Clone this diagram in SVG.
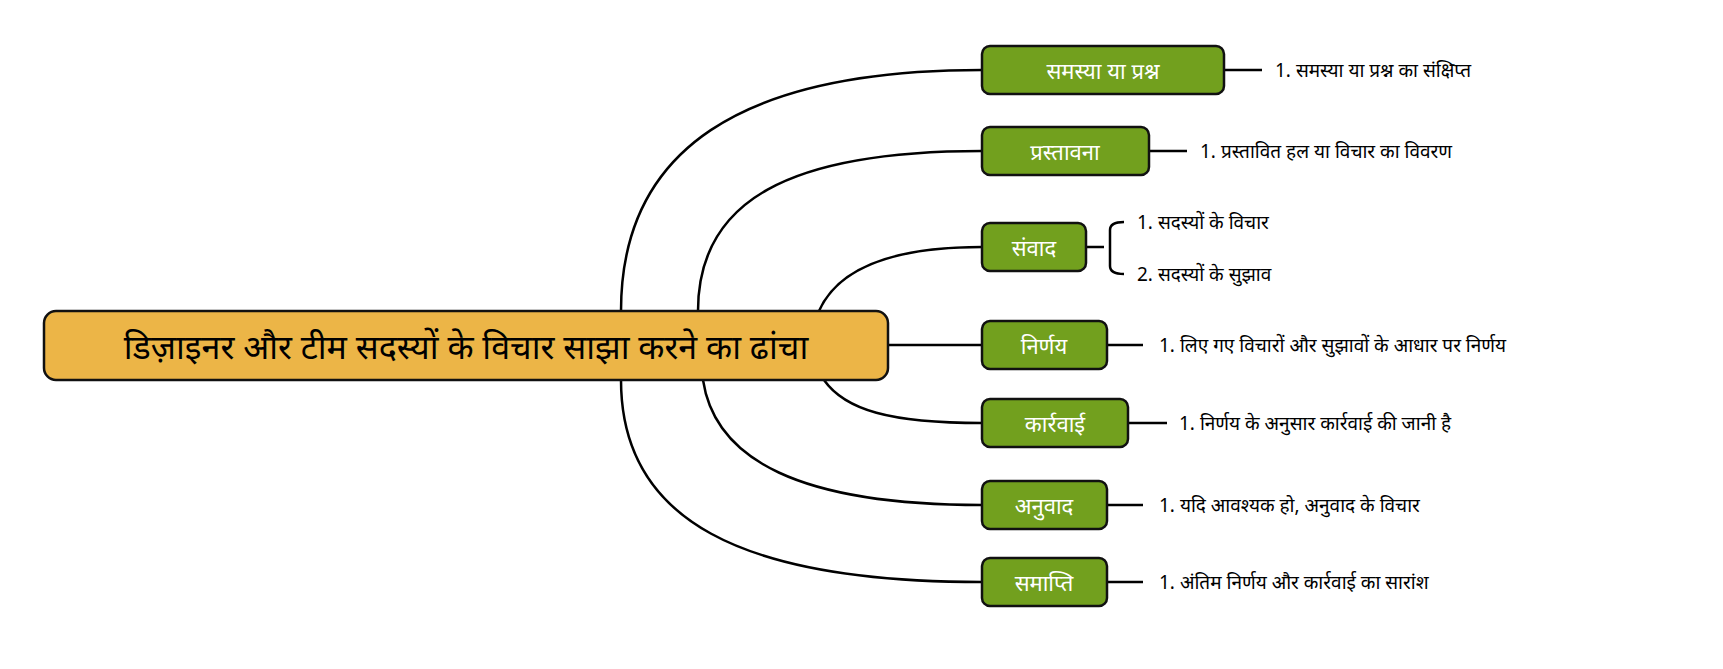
<svg xmlns="http://www.w3.org/2000/svg" width="1723" height="669" viewBox="0 0 1723 669">
<style>
.c{fill:none;stroke:#000;stroke-width:2.5}
.n{fill:#72a01e;stroke:#111;stroke-width:2.5}
.nt{font-family:"Noto Sans","DejaVu Sans",sans-serif;font-size:22px;fill:#fff;text-anchor:middle;dominant-baseline:central}
.t{font-family:"Noto Sans","DejaVu Sans",sans-serif;font-size:19px;fill:#000;dominant-baseline:central}
</style>
<rect width="1723" height="669" fill="#fff"/>
<g id="connectors">
<path class="c" d="M621,311 C621,150 740,70 982,70"/>
<path class="c" d="M698,311 C698,200 790,151 982,151"/>
<path class="c" d="M819,311 C835,275 880,247 982,247"/>
<path class="c" d="M888,345 L982,345"/>
<path class="c" d="M824,380 C845,410 890,423 982,423"/>
<path class="c" d="M703,380 C715,460 800,505 982,505"/>
<path class="c" d="M621,380 C621,520 740,582 982,582"/>
<path class="c" d="M1224,70 H1262 M1149,151 H1187 M1086,247 H1104 M1124,222 Q1110,222 1110,230 V266 Q1110,274 1124,274 M1107,345 H1143 M1128,423 H1167 M1107,505 H1143 M1107,582 H1143"/>
</g>
<g id="root">
<rect x="44" y="311" width="844" height="69" rx="12" fill="#ecb547" stroke="#111" stroke-width="2.5"/>
<text x="466" y="346" font-family="'Noto Sans','DejaVu Sans',sans-serif" font-size="34" text-anchor="middle" dominant-baseline="central">डिज़ाइनर और टीम सदस्यों के विचार साझा करने का ढांचा</text>
</g>
<g id="n1"><rect class="n" x="982" y="46" width="242" height="48" rx="8"/><text class="nt" x="1103" y="70">समस्या या प्रश्न</text><text class="t" x="1275" y="70">1. समस्या या प्रश्न का संक्षिप्त</text></g>
<g id="n2"><rect class="n" x="982" y="127" width="167" height="48" rx="8"/><text class="nt" x="1065" y="151">प्रस्तावना</text><text class="t" x="1200" y="151">1. प्रस्तावित हल या विचार का विवरण</text></g>
<g id="n3"><rect class="n" x="982" y="223" width="104" height="48" rx="8"/><text class="nt" x="1034" y="247">संवाद</text><text class="t" x="1137" y="222">1. सदस्यों के विचार</text><text class="t" x="1137" y="274">2. सदस्यों के सुझाव</text></g>
<g id="n4"><rect class="n" x="982" y="321" width="125" height="48" rx="8"/><text class="nt" x="1044" y="345">निर्णय</text><text class="t" x="1159" y="345">1. लिए गए विचारों और सुझावों के आधार पर निर्णय</text></g>
<g id="n5"><rect class="n" x="982" y="399" width="146" height="48" rx="8"/><text class="nt" x="1055" y="423">कार्रवाई</text><text class="t" x="1179" y="423">1. निर्णय के अनुसार कार्रवाई की जानी है</text></g>
<g id="n6"><rect class="n" x="982" y="481" width="125" height="48" rx="8"/><text class="nt" x="1044" y="505">अनुवाद</text><text class="t" x="1159" y="505">1. यदि आवश्यक हो, अनुवाद के विचार</text></g>
<g id="n7"><rect class="n" x="982" y="558" width="125" height="48" rx="8"/><text class="nt" x="1044" y="582">समाप्ति</text><text class="t" x="1159" y="582">1. अंतिम निर्णय और कार्रवाई का सारांश</text></g>
</svg>
